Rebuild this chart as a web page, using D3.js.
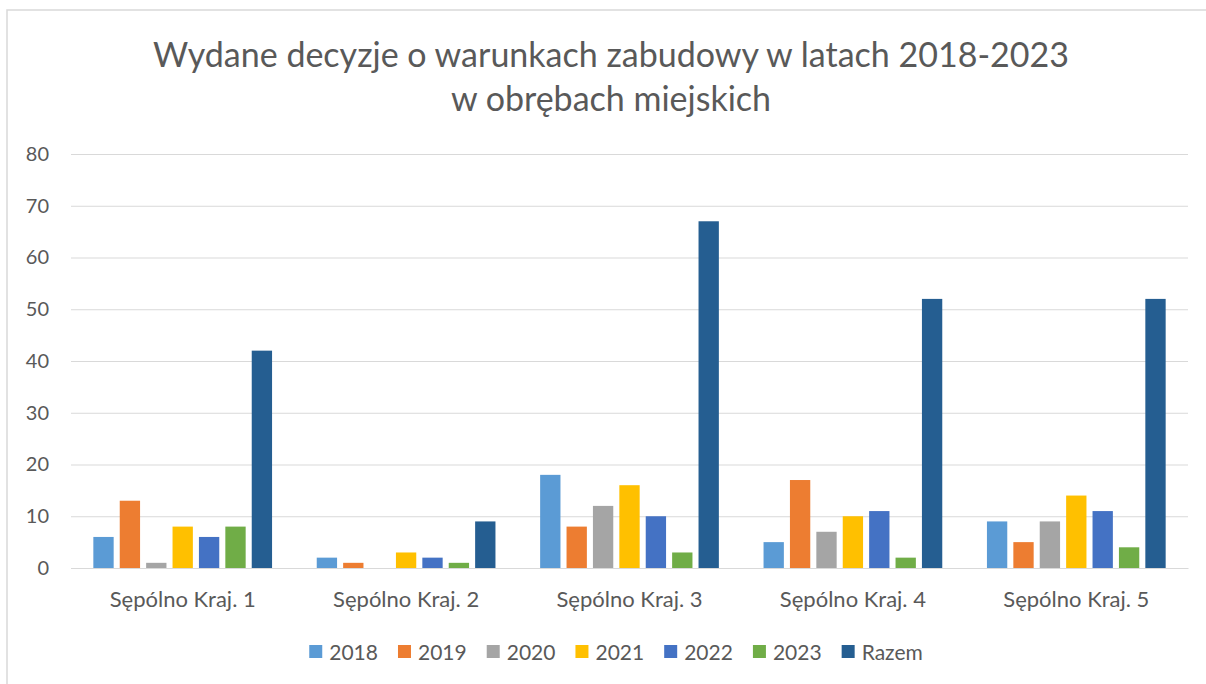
<!DOCTYPE html>
<html>
<head>
<meta charset="utf-8">
<script src="https://cdn.jsdelivr.net/npm/d3@7"></script>
<style>
  body { margin: 0; background: #fff; }
  svg { display: block; font-family: Lato, "Open Sans", sans-serif; }
</style>
</head>
<body>
<div id="chart"></div>
<script>
const categories = ["Sępólno Kraj. 1", "Sępólno Kraj. 2", "Sępólno Kraj. 3", "Sępólno Kraj. 4", "Sępólno Kraj. 5"];
const seriesNames = ["2018", "2019", "2020", "2021", "2022", "2023", "Razem"];
const seriesColors = ["#5B9BD5", "#ED7D31", "#A5A5A5", "#FFC000", "#4472C4", "#70AD47", "#255E91"];
const v2018 = [6, 2, 18, 5, 9];
const v2019 = [13, 1, 8, 17, 5];
const v2020 = [1, 0, 12, 7, 9];
const v2021 = [8, 3, 16, 10, 14];
const v2022 = [6, 2, 10, 11, 11];
const v2023 = [8, 1, 3, 2, 4];
const vRazem = [42, 9, 67, 52, 52];
const yTicks = [0, 10, 20, 30, 40, 50, 60, 70, 80];
const titleLines = ["Wydane decyzje o warunkach zabudowy w latach 2018-2023", "w obrębach miejskich"];

const allSeries = [v2018, v2019, v2020, v2021, v2022, v2023, vRazem];

const width = 1206;
const height = 684;
const margins = { top: 154, right: 18, bottom: 116, left: 71 };
const textColor = "#595959";
const gridColor = "#d9d9d9";

const svg = d3.select("#chart")
    .append("svg")
    .attr("width", width)
    .attr("height", height);

// chart area frame (only top and left edges show in the reference)
svg.append("path")
    .attr("d", `M7,${height} V10 H${width}`)
    .attr("fill", "none")
    .attr("stroke", gridColor)
    .attr("stroke-width", 1.5);

const x0 = d3.scaleBand()
    .domain(categories)
    .range([margins.left, width - margins.right])
    .paddingInner(0.2)
    .paddingOuter(0.1);

const x1 = d3.scaleBand()
    .domain(seriesNames)
    .range([0, x0.bandwidth()])
    .paddingInner(0.23)
    .paddingOuter(0);

const y = d3.scaleLinear()
    .domain([0, 80])
    .range([height - margins.bottom, margins.top]);

// gridlines + y labels
const gy = svg.append("g")
    .attr("transform", `translate(${margins.left},0)`)
    .call(d3.axisLeft(y).tickValues(yTicks).tickSize(-(width - margins.right - margins.left)).tickPadding(22))
    .call(g => g.select(".domain").remove());

gy.selectAll(".tick line").attr("stroke", gridColor).attr("stroke-width", 1);
gy.selectAll(".tick text")
    .attr("fill", textColor)
    .attr("font-size", 20)
    .attr("font-family", "Lato, sans-serif");

// bars
const groups = svg.append("g")
    .selectAll("g")
    .data(categories)
    .join("g")
    .attr("transform", d => `translate(${x0(d)},0)`);

groups.selectAll("rect")
    .data((c, ci) => seriesNames.map((s, si) => ({ series: s, value: allSeries[si][ci], color: seriesColors[si] })))
    .join("rect")
    .attr("x", d => x1(d.series))
    .attr("y", d => y(d.value))
    .attr("width", x1.bandwidth())
    .attr("height", d => y(0) - y(d.value))
    .attr("fill", d => d.color);

// category axis
const gx = svg.append("g")
    .attr("transform", `translate(0,${y(0)})`)
    .call(d3.axisBottom(x0).tickSize(0).tickPadding(23))
    .call(g => g.select(".domain").attr("stroke", gridColor));

gx.selectAll(".tick text")
    .attr("fill", textColor)
    .attr("font-size", 22)
    .attr("font-family", "Lato, sans-serif");

// title
svg.append("text")
    .attr("text-anchor", "middle")
    .attr("fill", textColor)
    .attr("font-size", 34)
    .selectAll("tspan")
    .data(titleLines)
    .join("tspan")
    .attr("x", 611)
    .attr("y", (_, i) => 67 + i * 44)
    .text(d => d);

// legend
const legend = svg.append("g");
const items = legend.selectAll("g")
    .data(seriesNames)
    .join("g");

items.append("rect")
    .attr("width", 13)
    .attr("height", 13)
    .attr("y", -7)
    .attr("fill", (_, i) => seriesColors[i]);

items.append("text")
    .attr("x", 20)
    .attr("dy", "0.36em")
    .attr("fill", textColor)
    .attr("font-size", 21)
    .text(d => d);

let cursor = 0;
items.each(function () {
    d3.select(this).attr("transform", `translate(${cursor},0)`);
    cursor += this.getBBox().width + 20;
});
const legendWidth = cursor - 20;
legend.attr("transform", `translate(${616 - legendWidth / 2},${652})`);
</script>
</body>
</html>
